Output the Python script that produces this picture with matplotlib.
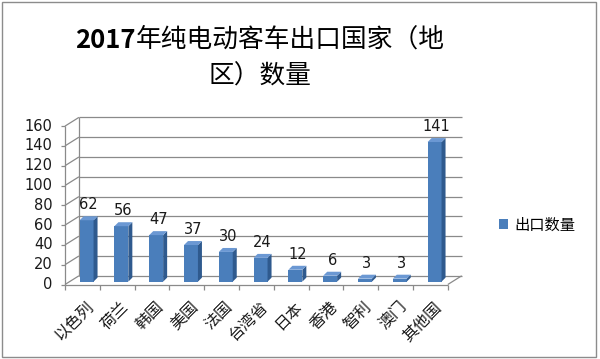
import matplotlib
matplotlib.use('Agg')
import matplotlib.pyplot as plt
from matplotlib.patches import Polygon, Rectangle, Patch
import numpy as np

plt.rcParams['font.family'] = ['Noto Sans CJK SC', 'DejaVu Sans']

# ---------------- data ----------------
title_line1_bold = '2017'
title_line1_rest = '年纯电动客车出口国家（地'
title_line2 = '区）数量'
categories = ['以色列', '荷兰', '韩国', '美国', '法国', '台湾省',
              '日本', '香港', '智利', '澳门', '其他国']
values = [62, 56, 47, 37, 30, 24, 12, 6, 3, 3, 141]
yticks = [0, 20, 40, 60, 80, 100, 120, 140, 160]
series_name = '出口数量'

# ---------------- styling ----------------
FRONT = '#4A7EBB'
SIDE = '#2F5A8E'
TOP = '#6B98D3'
GRID = '#8a8a8a'
TXT = '#1a1a1a'

W, H = 600, 359
fig = plt.figure(figsize=(W / 100, H / 100), dpi=100)

# front-plane pixel geometry
X0PX, XSTEP = 82.4, 34.8
Y0PX, YSCALE = 284.5, 0.99
AX_L, AX_R, AX_T, AX_B = 20, 480, 100, 350
ax = fig.add_axes([AX_L / W, 1 - AX_B / H, (AX_R - AX_L) / W, (AX_B - AX_T) / H])
ax.set_xlim((AX_L - X0PX) / XSTEP, (AX_R - X0PX) / XSTEP)
ax.set_ylim(-(AX_B - Y0PX) / YSCALE, (Y0PX - AX_T) / YSCALE)
ax.axis('off')

n = len(categories)
xl, xr = -0.5, n - 0.5
DX, DY = 0.40, 8.8          # wall depth
TICKX = 4 / XSTEP
lkw = dict(color=GRID, lw=0.9, zorder=1, clip_on=False, solid_capstyle='butt')

for t in yticks:
    ax.plot([xl + DX, xr + DX], [t + DY, t + DY], **lkw)
    ax.plot([xl, xl + DX], [t, t + DY], **lkw)
    ax.plot([xl - TICKX, xl], [t, t], **lkw)
    ax.annotate(str(t), (xl, t), xytext=(-9, 0), textcoords='offset points',
                ha='right', va='center', fontsize=10.5, color=TXT,
                family=['DejaVu Sans'])
ax.plot([xl, xl], [0, yticks[-1]], **lkw)
ax.plot([xl + DX, xl + DX], [DY, yticks[-1] + DY], **lkw)
ax.plot([xl, xr], [0, 0], **lkw)
ax.plot([xr, xr + DX], [0, DY], **lkw)
for k in range(n + 1):
    ax.plot([xl + k, xl + k], [0, -5 / YSCALE], **lkw)

# bars (pseudo 3D)
BOX, BOY = DX * 0.3, DY * 0.33
BW, BDX, BDY = 0.40, 0.115, 4.0
xs = np.arange(n) + BOX
ax.bar(xs, values, width=BW, bottom=BOY, color=FRONT, zorder=3, linewidth=0)
for x, v in zip(xs, values):
    r = x + BW / 2
    l = x - BW / 2
    top = v + BOY
    ax.add_patch(Polygon([(r, BOY), (r + BDX, BOY + BDY), (r + BDX, top + BDY), (r, top)],
                         closed=True, fc=SIDE, ec='none', zorder=3))
    ax.add_patch(Polygon([(l, top), (r, top), (r + BDX, top + BDY), (l + BDX, top + BDY)],
                         closed=True, fc=TOP, ec='none', zorder=3))
    ax.annotate(str(v), (x + BDX / 2, top + BDY), xytext=(0, 3), textcoords='offset points',
                ha='center', va='bottom', fontsize=10.5, color=TXT,
                family=['DejaVu Sans'])

for i, c in enumerate(categories):
    ax.annotate(c, (i, 0), xytext=(2, -10), textcoords='offset points',
                rotation=45, rotation_mode='anchor', ha='right', va='top',
                fontsize=11.5, color=TXT)

# legend
fig.legend(handles=[Patch(facecolor=FRONT, edgecolor='none')], labels=[series_name],
           loc='center left', bbox_to_anchor=(499 / W, 1 - 225 / H), frameon=False,
           fontsize=11, handlelength=0.6, handleheight=0.6, handletextpad=0.4,
           borderaxespad=0, borderpad=0)

# title (bold year + regular text)
TS = 18.5
CX = 260
t1 = fig.text(0, 1 - 40 / H, title_line1_bold, fontsize=TS, weight='bold',
              ha='left', va='center', color='black')
t2 = fig.text(0, 1 - 40 / H, title_line1_rest, fontsize=TS,
              ha='left', va='center', color='black')
fig.text(CX / W, 1 - 77 / H, title_line2, fontsize=TS, ha='center', va='center',
         color='black')
fig.canvas.draw()
r = fig.canvas.get_renderer()
w1 = t1.get_window_extent(r).width
w2 = t2.get_window_extent(r).width
start = CX - (w1 + w2) / 2
t1.set_x(start / W)
t2.set_x((start + w1) / W)

# outer border
fig.add_artist(Rectangle((2 / W, 2 / H), 594 / W, 355 / H, transform=fig.transFigure,
                         fill=False, ec='#8c8c8c', lw=1))

fig.savefig('out.png', dpi=100)
